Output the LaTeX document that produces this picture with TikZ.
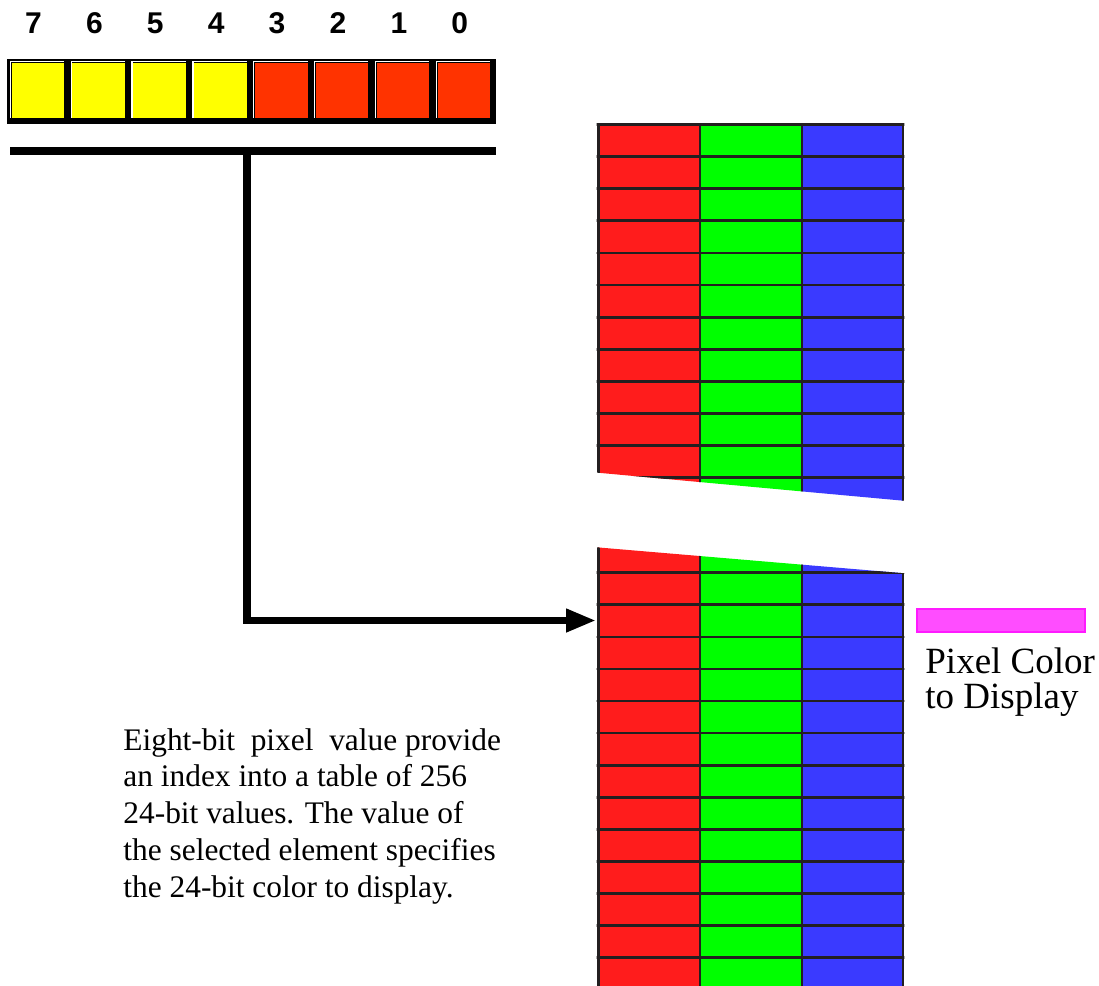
\documentclass[tikz,border=0pt]{standalone}
\usepackage{fontspec}
\setmainfont{Liberation Serif}
\newfontfamily\bitfont{Liberation Sans}
\usetikzlibrary{arrows.meta,calc,positioning}
\definecolor{bityellow}{HTML}{FFFF00}
\definecolor{bitred}{HTML}{FF3300}
\definecolor{lutred}{HTML}{FF1C1C}
\definecolor{lutgreen}{HTML}{00FF00}
\definecolor{lutblue}{HTML}{3A3AFF}
\definecolor{lutline}{HTML}{231F20}
\definecolor{swatchfill}{HTML}{FF4DFF}
\definecolor{swatchline}{HTML}{FF1AFF}

\begin{document}
\begin{tikzpicture}[
  x=0.5pt, y=-0.5pt,
  > = {Triangle[length=15pt,width=11pt]},
  bitbox/.style = {draw=black, fill=black, line width=0.8pt, minimum width=30.45pt, minimum height=31.75pt, inner sep=0pt, outer sep=0pt},
  bitnum/.style = {font=\bitfont\bfseries\fontsize{15}{15}\selectfont, anchor=base, inner sep=0pt},
  grid/.style = {draw=lutline, line width=1.4pt},
  swatch/.style = {draw=swatchline, fill=swatchfill, line width=1pt, minimum width=84pt, minimum height=11.5pt, inner sep=0pt},
  note/.style = {align=left, inner sep=0pt, anchor=base west}
  ]
  \useasboundingbox (0,0) rectangle (1099,986);

  % the eight bits of the pixel value
  \foreach \b/\col [count=\i from 0] in {7/bityellow,6/bityellow,5/bityellow,4/bityellow,3/bitred,2/bitred,1/bitred,0/bitred} {
    \node[bitbox] (bit\b) at (38.45+60.9*\i, 91.25) {};
    \fill[\col] ($(bit\b.north west)+(3.5,3.5)$) rectangle ($(bit\b.south east)+(-5,-5.5)$);
    \draw[white, line width=0.6pt] ($(bit\b.south west)+(2.2,-5.5)$) |- ($(bit\b.north east)+(-5,2.2)$);
    \node[bitnum] (num\b) at ($(bit\b.center)+(-5,-58)$) {\b};
  }

  \coordinate (bar-l) at (10,151);
  \coordinate (bar-r) at (496,151);
  \coordinate (bar-tap) at (247,151);
  \draw[line width=4.2pt] (bar-l) -- (bar-r);

  % colour table, upper part
  \begin{scope}
    \clip (596.6,123.1) -- (904.4,123.1) -- (904.4,500.8) -- (596.6,472.6) -- cycle;
    \fill[lutred] (598,120) rectangle (700,505);
    \fill[lutgreen] (700,120) rectangle (802,505);
    \fill[lutblue] (802,120) rectangle (903,505);
    \foreach \k in {0,...,11}
      \draw[grid] (596,124.5+32.1*\k) -- (906,124.5+32.1*\k);
    \foreach \x in {598.7,700,802,903}
      \draw[grid] (\x,120) -- (\x,505);
  \end{scope}

  % colour table, lower part
  \begin{scope}
    \clip (596.6,547.3) -- (904.4,573.3) -- (904.4,990) -- (596.6,990) -- cycle;
    \fill[lutred] (598,540) rectangle (700,990);
    \fill[lutgreen] (700,540) rectangle (802,990);
    \fill[lutblue] (802,540) rectangle (903,990);
    \foreach \k in {0,...,12}
      \draw[grid] (596,572.8+32.05*\k) -- (906,572.8+32.05*\k);
    \foreach \x in {598.7,700,802,903}
      \draw[grid] (\x,540) -- (\x,990);
  \end{scope}
  \coordinate (lut-entry) at (596,620.5);

  \draw[->, line width=3.6pt] (bar-tap) |- (lut-entry);

  \node[swatch] (swatch) at (1001,620.5) {};
  \node[note, font=\fontsize{18.5}{17.5}\selectfont] (pixel-label) at (925,708) {Pixel Color\\to Display};
  \node[note, font=\fontsize{15.7}{18.35}\selectfont] (caption) at (123,897) {Eight-bit\ \ pixel\ \ value provide\\an index into a table of 256\\24-bit values.  The value of\\the selected element specifies\\the 24-bit color to display.};

\end{tikzpicture}
\end{document}
